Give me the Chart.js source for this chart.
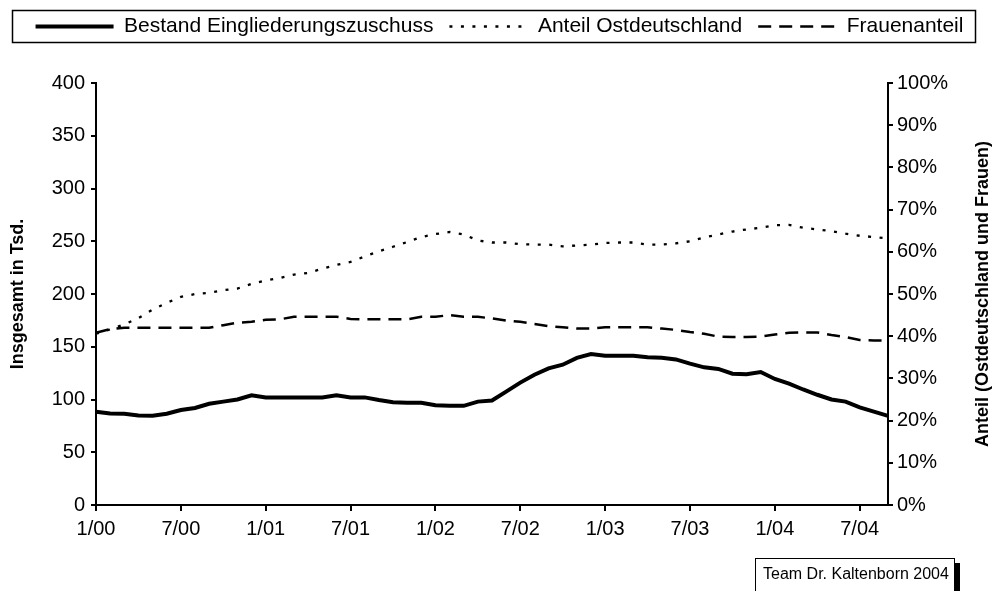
<!DOCTYPE html>
<html>
<head>
<meta charset="utf-8">
<script src="https://cdn.jsdelivr.net/npm/chart.js@4.4.1/dist/chart.umd.min.js"></script>
<style>
  body { margin: 0; background: #fff; }
  #wrap { position: relative; width: 999px; height: 591px; }
  #source {
    position: absolute; left: 755px; top: 558px; width: 200px; height: 40px;
    border: 1px solid #000; box-shadow: 5px 5px 0 #000; background: #fff;
    font: 16px "Liberation Sans", Arial, sans-serif; color: #000;
    padding: 6px 0 0 7px; box-sizing: border-box;
  }
</style>
</head>
<body>
<div id="wrap">
  <canvas id="chart" width="999" height="591"></canvas>
  <div id="source">Team Dr. Kaltenborn 2004</div>
</div>
<script>
// Monate 1/00 bis 9/04
var months = ['1/00','2/00','3/00','4/00','5/00','6/00','7/00','8/00','9/00','10/00','11/00','12/00',
              '1/01','2/01','3/01','4/01','5/01','6/01','7/01','8/01','9/01','10/01','11/01','12/01',
              '1/02','2/02','3/02','4/02','5/02','6/02','7/02','8/02','9/02','10/02','11/02','12/02',
              '1/03','2/03','3/03','4/03','5/03','6/03','7/03','8/03','9/03','10/03','11/03','12/03',
              '1/04','2/04','3/04','4/04','5/04','6/04','7/04','8/04','9/04'];

// Bestand Eingliederungszuschuss (Tsd.)
var bestand = [88.4, 86.8, 86.5, 84.9, 84.6, 86.5, 90, 92, 96, 98,
               100, 104, 102, 102, 102, 102, 102, 104, 102, 102,
               99.5, 97.5, 97, 97, 94.5, 94, 94, 98, 99, 107.5,
               116, 123.5, 129.5, 133, 139.5, 143, 141.5, 141.5, 141.5, 140,
               139.5, 138, 134, 130.5, 129, 124.5, 124, 126, 119.5, 115,
               109.5, 104.5, 100, 98, 92.5, 88.5, 84.5];

// Anteil Ostdeutschland (%)
var anteilOst = [40.6, 41.6, 42.8, 44.3, 46.3, 47.9, 49.3, 50, 50.3, 50.9,
                 51.3, 52.4, 53.2, 53.8, 54.6, 55, 56, 56.9, 57.6, 58.9,
                 60.1, 61.2, 62.3, 63.5, 64.2, 64.7, 64.1, 62.7, 62.2, 62.2,
                 61.8, 61.7, 61.7, 61.3, 61.5, 61.7, 62.1, 62.2, 62.2, 61.7,
                 61.7, 62, 62.5, 63.4, 64.1, 64.8, 65.3, 65.7, 66.3, 66.4,
                 65.7, 65.3, 64.9, 64.3, 63.8, 63.5, 63.2];

// Frauenanteil (%)
var frauen = [40.8, 41.7, 42, 42, 42, 42, 42, 42, 42, 42.6,
              43.2, 43.4, 43.9, 44, 44.6, 44.6, 44.6, 44.6, 44.1, 44,
              44, 44, 44, 44.6, 44.6, 45, 44.6, 44.6, 44.2, 43.7,
              43.4, 42.9, 42.4, 42.1, 41.8, 41.8, 42.1, 42.1, 42.1, 42.1,
              41.8, 41.5, 41, 40.6, 39.9, 39.8, 39.8, 39.9, 40.4, 40.8,
              40.9, 40.9, 40.3, 39.8, 39.1, 39, 39];

var leftTitle = 'Insgesamt in Tsd.';
var rightTitle = 'Anteil (Ostdeutschland und Frauen)';

Chart.defaults.font.family = '"Liberation Sans", Arial, sans-serif';
Chart.defaults.color = '#000';

// legend box: fixed height + frame, right axis title bottom-to-top
var legendFrame = {
  id: 'legendFrame',
  beforeLayout: function(chart) {
    var lg = chart.legend;
    if (lg && !lg._fixed) {
      var fit = lg.fit;
      lg.fit = function() { fit.call(this); this.height = 83; };
      lg._fixed = true;
    }
  },
  afterDraw: function(chart) {
    var ctx = chart.ctx;
    ctx.save();
    ctx.strokeStyle = '#000';
    ctx.lineWidth = 1.5;
    ctx.strokeRect(12.5, 10.5, 963, 32);

    ctx.translate(983, (chart.chartArea.top + chart.chartArea.bottom) / 2);
    ctx.rotate(-Math.PI / 2);
    ctx.font = 'bold 18px "Liberation Sans", Arial, sans-serif';
    ctx.fillStyle = '#000';
    ctx.textAlign = 'center';
    ctx.textBaseline = 'middle';
    ctx.fillText(rightTitle, 0, 0);
    ctx.restore();
  }
};

new Chart(document.getElementById('chart'), {
  type: 'line',
  data: {
    labels: months,
    datasets: [
      {
        label: 'Bestand Eingliederungszuschuss',
        data: bestand,
        yAxisID: 'y',
        borderColor: '#000',
        backgroundColor: '#000',
        borderWidth: 4,
        pointRadius: 0,
        tension: 0
      },
      {
        label: 'Anteil Ostdeutschland',
        data: anteilOst,
        yAxisID: 'y2',
        borderColor: '#000',
        backgroundColor: '#000',
        borderWidth: 2.3,
        borderDash: [3, 8.5],
        pointRadius: 0,
        tension: 0
      },
      {
        label: 'Frauenanteil',
        data: frauen,
        yAxisID: 'y2',
        borderColor: '#000',
        backgroundColor: '#000',
        borderWidth: 2.5,
        borderDash: [13, 8],
        pointRadius: 0,
        tension: 0
      }
    ]
  },
  options: {
    responsive: false,
    animation: false,
    layout: { padding: 0 },
    plugins: {
      legend: {
        position: 'top',
        labels: {
          usePointStyle: true,
          pointStyle: 'line',
          pointStyleWidth: 78,
          padding: 16,
          color: '#000',
          font: { size: 21 },
          generateLabels: function(chart) {
            var items = Chart.defaults.plugins.legend.labels.generateLabels(chart);
            items.forEach(function(item) {
              var ds = chart.data.datasets[item.datasetIndex];
              item.lineDash = ds.borderDash || [];
              item.lineWidth = ds.borderWidth;
              item.strokeStyle = ds.borderColor;
            });
            return items;
          }
        }
      },
      tooltip: { enabled: false }
    },
    scales: {
      x: {
        type: 'category',
        offset: false,
        border: { display: true, color: '#000', width: 2 },
        grid: { display: true, drawOnChartArea: false, drawTicks: true, tickLength: 6, color: '#000', lineWidth: 2 },
        ticks: {
          autoSkip: false,
          maxRotation: 0,
          padding: 6,
          font: { size: 20 },
          callback: function(val, i) {
            var m = months[i];
            return (m.indexOf('1/') === 0 || m.indexOf('7/') === 0) ? m : null;
          }
        },
        afterFit: function(scale) {
          scale.height = 86;
          scale.paddingLeft = 0;
          scale.paddingRight = 0;
        }
      },
      y: {
        position: 'left',
        min: 0,
        max: 400,
        border: { display: true, color: '#000', width: 2 },
        grid: { display: true, drawOnChartArea: false, drawTicks: true, tickLength: 5, color: '#000', lineWidth: 2 },
        ticks: { stepSize: 50, padding: 6, font: { size: 20 } },
        title: {
          display: true,
          text: leftTitle,
          font: { size: 18, weight: 'bold' },
          padding: { top: 7, bottom: 0 }
        },
        afterFit: function(scale) {
          scale.width = 96;
          scale.paddingTop = 0;
          scale.paddingBottom = 0;
        }
      },
      y2: {
        position: 'right',
        min: 0,
        max: 100,
        border: { display: true, color: '#000', width: 2 },
        grid: { display: true, drawOnChartArea: false, drawTicks: true, tickLength: 5, color: '#000', lineWidth: 2 },
        ticks: {
          stepSize: 10,
          padding: 4,
          font: { size: 20 },
          callback: function(v) { return v + '%'; }
        },
        afterFit: function(scale) {
          scale.width = 111;
          scale.paddingTop = 0;
          scale.paddingBottom = 0;
        }
      }
    }
  },
  plugins: [legendFrame]
});
</script>
</body>
</html>
